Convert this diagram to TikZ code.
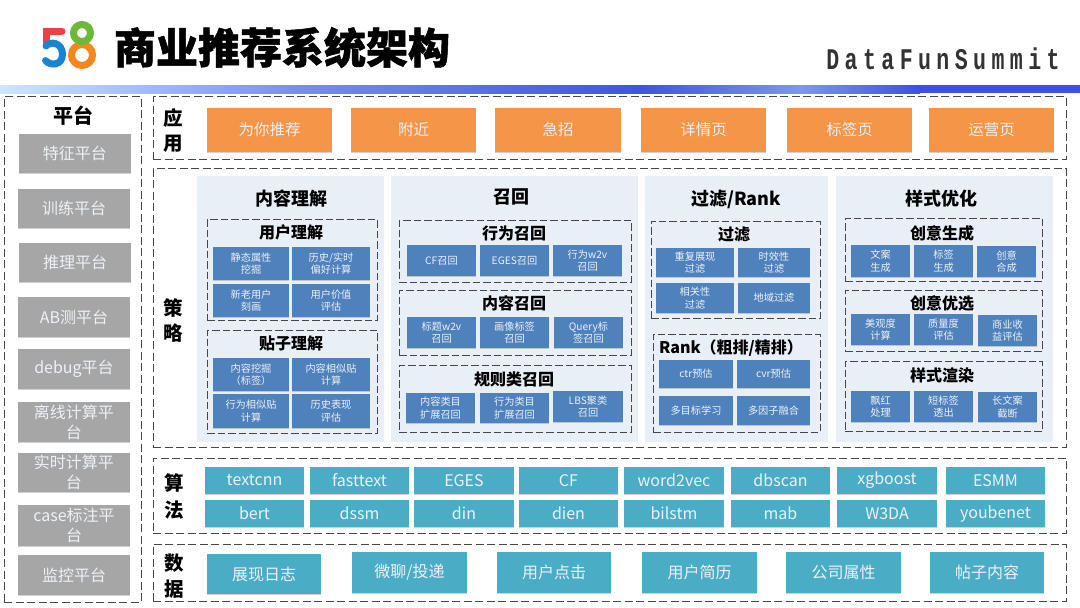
\documentclass[tikz,border=0pt]{standalone}
\usepackage{fontspec}
\setmainfont{Noto Sans CJK SC}
\newfontfamily\titlefont[BoldFeatures={FakeBold=1.2}]{Noto Sans CJK SC}
\newfontfamily\dfsfont[LetterSpace=18,FakeStretch=0.72]{Liberation Mono}
\usetikzlibrary{shadows}
\definecolor{orangebox}{RGB}{245,149,72}
\definecolor{bluebox}{RGB}{79,129,189}
\definecolor{tealbox}{RGB}{75,172,198}
\definecolor{graybox}{RGB}{166,166,166}
\definecolor{panelbg}{RGB}{232,239,247}
\definecolor{boxtext}{RGB}{236,241,248}
\definecolor{dashline}{RGB}{70,70,70}
\definecolor{barA}{RGB}{205,230,252}
\definecolor{barB}{RGB}{120,140,240}
\definecolor{barC}{RGB}{62,84,228}
\definecolor{barD}{RGB}{125,150,240}
\definecolor{barE}{RGB}{60,80,230}
\definecolor{logoOrange}{RGB}{245,135,30}
\definecolor{logoGreen}{RGB}{108,184,58}
\definecolor{logoRed}{RGB}{238,62,70}
\definecolor{logoBlue}{RGB}{26,132,212}
\tikzset{
  x=1pt,y=-1pt,
  softshadow/.style={drop shadow={shadow xshift=0pt,shadow yshift=-1.2pt,opacity=.3,fill=black!60}},
  basebox/.style={inner sep=0pt,align=center,text=boxtext,softshadow},
  appbox/.style={basebox,fill=orangebox,font=\fontsize{15.5}{18}\selectfont},
  platbox/.style={basebox,fill=graybox,font=\fontsize{16}{20}\selectfont},
  stratbox/.style={basebox,fill=bluebox,font=\fontsize{10.2}{12.4}\selectfont},
  algobox/.style={basebox,fill=tealbox,font=\fontsize{16}{18}\selectfont},
  databox/.style={basebox,fill=tealbox,font=\fontsize{16}{18}\selectfont},
  outerdash/.style={draw=dashline,line width=1pt,dash pattern=on 8pt off 3.5pt,inner sep=0pt},
  innerdash/.style={draw=dashline,line width=1pt,dash pattern=on 7.5pt off 3pt,inner sep=0pt},
  panel/.style={fill=panelbg,inner sep=0pt},
  headA/.style={inner sep=0pt,font=\bfseries\fontsize{18}{20}\selectfont},
  headB/.style={inner sep=0pt,font=\bfseries\fontsize{16}{18}\selectfont},
  sidelabel/.style={inner sep=0pt,font=\bfseries\fontsize{19.5}{21}\selectfont},
  logoline/.style={line width=7pt,line cap=round},
}
% style, name, x1, y1, x2, y2, text
\newcommand{\bx}[7]{\node[#1,minimum width={(#5-#3)*1pt},minimum height={(#6-#4)*1pt}] (#2) at ({(#3+#5)/2},{(#4+#6)/2}) {#7};}
\begin{document}
\begin{tikzpicture}
\useasboundingbox (0,0) rectangle (1080,608);
\fill[white] (0,0) rectangle (1080,608);
% top bar
\shade[left color=barA,right color=barB] (0,85) rectangle (300,93);
\shade[left color=barB,right color=barC] (300,85) rectangle (640,93);
\shade[left color=barC,right color=barD] (640,85) rectangle (800,93);
\shade[left color=barD,right color=barE] (800,85) rectangle (920,93);
\fill[barE] (920,85) rectangle (1080,93);
% logo
\draw[logoline,draw=logoOrange] (82,55) circle (10.5);
\draw[logoline,draw=logoGreen] (82,33) circle (8.5);
\draw[logoline,draw=logoRed] (62,31) -- (46,31) -- (46,44);
\draw[logoline,draw=logoBlue] (46,46) .. controls (50,41) and (62,42) .. (62.5,54) .. controls (62.5,66) and (50,66) .. (45.5,60.5);
% title
\node[inner sep=0pt,font=\titlefont\bfseries\fontsize{42}{44}\selectfont] (title) at (282,47.5) {商业推荐系统架构};
\node[inner sep=0pt,text=black!80,font=\dfsfont\bfseries\fontsize{30}{32}\selectfont] (brand) at (943,59) {DataFunSummit};
% outer frames
\bx{outerdash}{platframe}{4}{96.5}{141}{602}{}
\bx{outerdash}{appframe}{153}{96.5}{1066}{159}{}
\bx{outerdash}{stratframe}{153}{168.5}{1066}{447}{}
\bx{outerdash}{algoframe}{153}{458}{1066}{533.5}{}
\bx{outerdash}{dataframe}{153}{544}{1066}{601}{}
% platform
\node[inner sep=0pt,font=\bfseries\fontsize{20}{22}\selectfont] (plathead) at (73,116) {平台};
\bx{platbox}{p1}{18.5}{134}{131}{173}{特征平台}
\bx{platbox}{p2}{18}{189}{130}{228}{训练平台}
\bx{platbox}{p3}{19}{243}{131}{282}{推理平台}
\bx{platbox}{p4}{18}{297}{130}{337}{AB测平台}
\bx{platbox}{p5}{18}{349}{130}{389}{debug平台}
\bx{platbox}{p6}{18}{402}{130}{442}{离线计算平\\台}
\bx{platbox}{p7}{18}{453}{130}{492}{实时计算平\\台}
\bx{platbox}{p8}{18}{505}{130}{546}{case标注平\\台}
\bx{platbox}{p9}{18}{555}{130}{595}{监控平台}
% app
\node[sidelabel] (l1) at (173,118) {应};
\node[sidelabel] (l2) at (173,144) {用};
\bx{appbox}{a1}{207}{108}{332}{152}{为你推荐}
\bx{appbox}{a2}{351}{108}{476}{152}{附近}
\bx{appbox}{a3}{495}{108}{621}{152}{急招}
\bx{appbox}{a4}{641}{108}{766}{152}{详情页}
\bx{appbox}{a5}{787}{108}{912}{152}{标签页}
\bx{appbox}{a6}{929}{108}{1054}{152}{运营页}
% strategy
\node[sidelabel] (l3) at (173,308) {策};
\node[sidelabel] (l4) at (173,333) {略};
\bx{panel}{pa}{197}{176}{384}{442}{}
\bx{panel}{pb}{391}{176}{638}{442}{}
\bx{panel}{pc}{645}{176}{828}{442}{}
\bx{panel}{pd}{836}{176}{1053}{442}{}
\node[headA] (ha) at (291,199) {内容理解};
\node[headA] (hb) at (511,197) {召回};
\node[headA] (hc) at (736,199) {过滤/Rank};
\node[headA] (hd) at (941,199) {样式优化};
% panel a
\bx{innerdash}{fa1}{207}{219}{377}{320}{}
\bx{innerdash}{fa2}{207}{330}{377}{433}{}
\node[headB] (ha1) at (291,232) {用户理解};
\node[headB] (ha2) at (291,343) {贴子理解};
\bx{stratbox}{s1}{213}{247}{289}{280}{静态属性\\挖掘}
\bx{stratbox}{s2}{292}{247}{370}{280}{历史/实时\\偏好计算}
\bx{stratbox}{s3}{213}{284}{289}{317}{新老用户\\刻画}
\bx{stratbox}{s4}{292}{284}{370}{317}{用户价值\\评估}
\bx{stratbox}{s5}{213}{358}{289}{391}{内容挖掘\\（标签）}
\bx{stratbox}{s6}{292}{358}{370}{391}{内容相似贴\\计算}
\bx{stratbox}{s7}{213}{394}{289}{428}{行为相似贴\\计算}
\bx{stratbox}{s8}{292}{394}{370}{428}{历史表现\\评估}
% panel b
\bx{innerdash}{fb1}{399}{220}{631}{282}{}
\bx{innerdash}{fb2}{399}{290}{631}{355}{}
\bx{innerdash}{fb3}{399}{365}{631}{432}{}
\node[headB] (hb1) at (514,233) {行为召回};
\node[headB] (hb2) at (514,303) {内容召回};
\node[headB] (hb3) at (514,379) {规则类召回};
\bx{stratbox}{r1}{407}{245}{476}{276}{CF召回}
\bx{stratbox}{r2}{480}{245}{549}{276}{EGES召回}
\bx{stratbox}{r3}{553}{245}{622}{276}{行为w2v\\召回}
\bx{stratbox}{r4}{407}{317}{476}{348}{标题w2v\\召回}
\bx{stratbox}{r5}{480}{317}{549}{348}{画像标签\\召回}
\bx{stratbox}{r6}{554}{317}{623}{348}{Query标\\签召回}
\bx{stratbox}{r7}{406}{393}{475}{423}{内容类目\\扩展召回}
\bx{stratbox}{r8}{480}{393}{549}{423}{行为类目\\扩展召回}
\bx{stratbox}{r9}{553}{391}{623}{422}{LBS聚类\\召回}
% panel c
\bx{innerdash}{fc1}{651}{221}{820}{318}{}
\bx{innerdash}{fc2}{653}{334}{820}{432}{}
\node[headB] (hc1) at (734,235) {过滤};
\node[headB] (hc2) at (731,348) {Rank（粗排/精排）};
\bx{stratbox}{f1}{656}{248}{734}{277}{重复展现\\过滤}
\bx{stratbox}{f2}{738}{248}{810}{277}{时效性\\过滤}
\bx{stratbox}{f3}{656}{283}{734}{313}{相关性\\过滤}
\bx{stratbox}{f4}{738}{283}{810}{313}{地域过滤}
\bx{stratbox}{f5}{659}{360}{733}{388}{ctr预估}
\bx{stratbox}{f6}{737}{360}{810}{388}{cvr预估}
\bx{stratbox}{f7}{659}{396}{733}{425}{多目标学习}
\bx{stratbox}{f8}{737}{396}{810}{425}{多因子融合}
% panel d
\bx{innerdash}{fd1}{845}{218}{1042}{281}{}
\bx{innerdash}{fd2}{845}{290}{1042}{351}{}
\bx{innerdash}{fd3}{845}{361}{1042}{431}{}
\node[headB] (hd1) at (942,233) {创意生成};
\node[headB] (hd2) at (942,303) {创意优选};
\node[headB] (hd3) at (942,375) {样式渲染};
\bx{stratbox}{y1}{851}{245}{910}{277}{文案\\生成}
\bx{stratbox}{y2}{914}{245}{973}{277}{标签\\生成}
\bx{stratbox}{y3}{977}{246}{1036}{277}{创意\\合成}
\bx{stratbox}{y4}{851}{314}{910}{345}{美观度\\计算}
\bx{stratbox}{y5}{914}{314}{973}{345}{质量度\\评估}
\bx{stratbox}{y6}{978}{315}{1037}{346}{商业收\\益评估}
\bx{stratbox}{y7}{851}{391}{910}{422}{飘红\\处理}
\bx{stratbox}{y8}{914}{391}{973}{422}{短标签\\透出}
\bx{stratbox}{y9}{978}{392}{1037}{422}{长文案\\截断}
% algorithms
\node[sidelabel] (l5) at (174,483) {算};
\node[sidelabel] (l6) at (174,510) {法};
\bx{algobox}{g1}{205}{467}{304}{494}{textcnn}
\bx{algobox}{g2}{310}{467}{409}{494}{fasttext}
\bx{algobox}{g3}{414}{467}{514}{494}{EGES}
\bx{algobox}{g4}{519}{467}{618}{494}{CF}
\bx{algobox}{g5}{624}{467}{724}{494}{word2vec}
\bx{algobox}{g6}{731}{467}{830}{494}{dbscan}
\bx{algobox}{g7}{837}{467}{937}{494}{xgboost}
\bx{algobox}{g8}{946}{467}{1045}{494}{ESMM}
\bx{algobox}{g9}{205}{500}{304}{527}{bert}
\bx{algobox}{g10}{310}{500}{409}{527}{dssm}
\bx{algobox}{g11}{414}{500}{514}{527}{din}
\bx{algobox}{g12}{519}{500}{618}{527}{dien}
\bx{algobox}{g13}{624}{500}{724}{527}{bilstm}
\bx{algobox}{g14}{731}{500}{830}{527}{mab}
\bx{algobox}{g15}{837}{500}{937}{527}{W3DA}
\bx{algobox}{g16}{946}{500}{1045}{527}{youbenet}
% data
\node[sidelabel] (l7) at (174,563) {数};
\node[sidelabel] (l8) at (174,589) {据};
\bx{databox}{d1}{207}{554}{321}{594}{展现日志}
\bx{databox}{d2}{352}{552}{467}{593}{微聊/投递}
\bx{databox}{d3}{497}{552}{611}{593}{用户点击}
\bx{databox}{d4}{642}{552}{757}{593}{用户简历}
\bx{databox}{d5}{786}{552}{901}{593}{公司属性}
\bx{databox}{d6}{930}{552}{1044}{593}{帖子内容}
\end{tikzpicture}
\end{document}
